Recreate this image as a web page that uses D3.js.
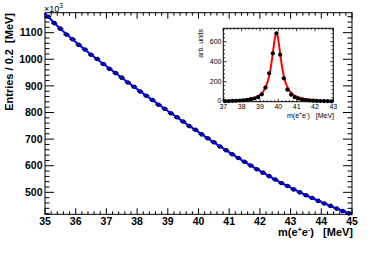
<!DOCTYPE html>
<html><head><meta charset="utf-8">
<script src="https://cdn.jsdelivr.net/npm/d3@7"></script>
<style>body{margin:0;background:#fff}svg{display:block}text{font-family:"Liberation Sans",Arial,sans-serif}</style>
</head><body><svg id="c" width="374" height="253"></svg>
<script>
// ---- main plot data (x in MeV, y in 10^3 entries per 0.2 MeV) ----
const binCenters = [35.1,35.3,35.5,35.7,35.9,36.1,36.3,36.5,36.7,36.9,37.1,37.3,37.5,37.7,37.9,38.1,38.3,38.5,38.7,38.9,39.1,39.3,39.5,39.7,39.9,40.1,40.3,40.5,40.7,40.9,41.1,41.3,41.5,41.7,41.9,42.1,42.3,42.5,42.7,42.9,43.1,43.3,43.5,43.7,43.9,44.1,44.3,44.5,44.7,44.9];
const entries = [1160,1136,1115,1093,1075,1054,1037,1017,1001,982,964,948,931,913,897,879,863,847,829,814,797,782,766,749,735,718,703,688,672,658,643,629,615,601,587,574,561,548,535,524,511,500,489,479,468,458,449,439,430,421];
const fitX = [35,35.5,36,36.5,37,37.5,38,38.5,39,39.5,40,40.5,41,41.5,42,42.5,43,43.5,44,44.5,45];
const fitY = [1172,1114.5,1064.5,1018,973.5,930.4,888,846.4,805.5,765.5,726.5,687.5,650.5,614.5,580.5,548,517.5,489,463.5,439.3,416.5];
const xTicks = [35,36,37,38,39,40,41,42,43,44,45];
const yTicks = [500,600,700,800,900,1000,1100];
// ---- inset data ----
const insetX = [37.1,37.3,37.5,37.7,37.9,38.1,38.3,38.5,38.7,38.9,39.1,39.3,39.5,39.7,39.9,40.1,40.3,40.5,40.7,40.9,41.1,41.3,41.5,41.7,41.9,42.1,42.3,42.5,42.7,42.9];
const insetY = [5,6,8,9,12,14,18,25,32,45,74,140,284,484,684,470,234,120,70,45,32,22,17,12,10,8,7,6,5,4];
const insetFitX = [37,37.5,38,38.5,38.8,39,39.2,39.3,39.4,39.5,39.6,39.7,39.8,39.85,39.9,39.95,40,40.1,40.2,40.3,40.4,40.5,40.6,40.8,41,41.5,42,42.5,43];
const insetFitY = [7,10,16,30,48,70,108,145,190,258,354,484,620,665,690,670,620,484,354,258,190,145,112,72,50,26,15,10,7];
const insetXTicks = [37,38,39,40,41,42,43];
const insetYTicks = [0,200,400,600];

const svg = d3.select("#c");
const M = {l:45, r:352, t:12.7, b:214.3};
const x = d3.scaleLinear().domain([35,45]).range([M.l,M.r]);
const y = d3.scaleLinear().domain([417.5,1175]).range([M.b,M.t]);

svg.append("rect").attr("width",374).attr("height",253).attr("fill","#fff");

function minorRange(a,b,s){const r=[];for(let i=0;a+i*s<=b+1e-9;i++)r.push(+(a+i*s).toFixed(4));return r;}
const xMinor = minorRange(35,45,0.2).filter(v=>!xTicks.includes(v));
const yMinor = minorRange(420,1160,20).filter(v=>!yTicks.includes(v));

const gAx = svg.append("g").attr("stroke","#000").attr("stroke-width",1);
xTicks.forEach(v=>{gAx.append("line").attr("x1",x(v)).attr("x2",x(v)).attr("y1",M.b).attr("y2",M.b-6);
  gAx.append("line").attr("x1",x(v)).attr("x2",x(v)).attr("y1",M.t).attr("y2",M.t+6);});
xMinor.forEach(v=>{gAx.append("line").attr("x1",x(v)).attr("x2",x(v)).attr("y1",M.b).attr("y2",M.b-3);
  gAx.append("line").attr("x1",x(v)).attr("x2",x(v)).attr("y1",M.t).attr("y2",M.t+3);});
yTicks.forEach(v=>{gAx.append("line").attr("x1",M.l).attr("x2",M.l+9).attr("y1",y(v)).attr("y2",y(v));
  gAx.append("line").attr("x1",M.r).attr("x2",M.r-9).attr("y1",y(v)).attr("y2",y(v));});
yMinor.forEach(v=>{gAx.append("line").attr("x1",M.l).attr("x2",M.l+4.5).attr("y1",y(v)).attr("y2",y(v));
  gAx.append("line").attr("x1",M.r).attr("x2",M.r-4.5).attr("y1",y(v)).attr("y2",y(v));});

const gD = svg.append("g");
binCenters.forEach((c,i)=>{
  gD.append("line").attr("x1",x(c-0.1)).attr("x2",x(c+0.1)).attr("y1",y(entries[i])).attr("y2",y(entries[i])).attr("stroke","#000").attr("stroke-width",1.4);
  gD.append("circle").attr("cx",x(c)).attr("cy",y(entries[i])).attr("r",2.3).attr("fill","#000");
});
const line = d3.line().x(d=>x(d[0])).y(d=>y(d[1])).curve(d3.curveMonotoneX);
svg.append("path").datum(fitX.map((v,i)=>[v,fitY[i]])).attr("d",line).attr("fill","none").attr("stroke","#0000ff").attr("stroke-width",2);

svg.append("rect").attr("x",M.l).attr("y",M.t).attr("width",M.r-M.l).attr("height",M.b-M.t).attr("fill","none").attr("stroke","#000").attr("stroke-width",1);

const tl = svg.append("g").attr("font-size","10.5px").attr("font-weight","bold").attr("fill","#000");
xTicks.forEach(v=>tl.append("text").attr("x",x(v)).attr("y",224.5).attr("text-anchor","middle").text(v));
yTicks.forEach(v=>tl.append("text").attr("x",42.5).attr("y",y(v)+3.7).attr("text-anchor","end").text(v));

const ex = svg.append("text").attr("x",44).attr("y",12).attr("font-size","9px");
ex.append("tspan").text("×10");
ex.append("tspan").attr("dy",-4).attr("font-size","6.5px").text("3");

const xt = svg.append("text").attr("x",353).attr("y",236).attr("text-anchor","end").attr("font-size","11px").attr("font-weight","bold");
xt.append("tspan").text("m(e");
xt.append("tspan").attr("dy",-4).attr("font-size","7px").text("+");
xt.append("tspan").attr("dy",4).text("e");
xt.append("tspan").attr("dy",-4).attr("font-size","7px").text("-");
xt.append("tspan").attr("dy",4).text(")\u00a0\u00a0\u00a0[MeV]");
svg.append("text").attr("transform","translate(13,13) rotate(-90)").attr("text-anchor","end").attr("font-size","11px").attr("font-weight","bold").text("Entries / 0.2\u00a0\u00a0[MeV]");

// ---- inset ----
const I = {l:223.3, r:333.3, t:28.3, b:101.7};
const ix = d3.scaleLinear().domain([37,43]).range([I.l,I.r]);
const iy = d3.scaleLinear().domain([0,734]).range([I.b,I.t]);
svg.append("rect").attr("x",I.l).attr("y",I.t).attr("width",I.r-I.l).attr("height",I.b-I.t).attr("fill","#fff");
const gi = svg.append("g").attr("stroke","#000").attr("stroke-width",0.8);
const ixMinor = minorRange(37,43,0.2).filter(v=>!insetXTicks.includes(v));
const iyMinor = minorRange(0,720,40).filter(v=>!insetYTicks.includes(v));
insetXTicks.forEach(v=>{gi.append("line").attr("x1",ix(v)).attr("x2",ix(v)).attr("y1",I.b).attr("y2",I.b-3);
  gi.append("line").attr("x1",ix(v)).attr("x2",ix(v)).attr("y1",I.t).attr("y2",I.t+3);});
ixMinor.forEach(v=>{gi.append("line").attr("x1",ix(v)).attr("x2",ix(v)).attr("y1",I.b).attr("y2",I.b-1.5);
  gi.append("line").attr("x1",ix(v)).attr("x2",ix(v)).attr("y1",I.t).attr("y2",I.t+1.5);});
insetYTicks.forEach(v=>{gi.append("line").attr("x1",I.l).attr("x2",I.l+3.3).attr("y1",iy(v)).attr("y2",iy(v));
  gi.append("line").attr("x1",I.r).attr("x2",I.r-3.3).attr("y1",iy(v)).attr("y2",iy(v));});
iyMinor.forEach(v=>{gi.append("line").attr("x1",I.l).attr("x2",I.l+1.7).attr("y1",iy(v)).attr("y2",iy(v));
  gi.append("line").attr("x1",I.r).attr("x2",I.r-1.7).attr("y1",iy(v)).attr("y2",iy(v));});
const iline = d3.line().x(d=>ix(d[0])).y(d=>iy(d[1])).curve(d3.curveMonotoneX);
svg.append("path").datum(insetFitX.map((v,i)=>[v,insetFitY[i]])).attr("d",iline).attr("fill","none").attr("stroke","#ff0000").attr("stroke-width",2);
insetX.forEach((c,i)=>{
  svg.append("line").attr("x1",ix(c-0.1)).attr("x2",ix(c+0.1)).attr("y1",iy(insetY[i])).attr("y2",iy(insetY[i])).attr("stroke","#000").attr("stroke-width",0.8);
  svg.append("circle").attr("cx",ix(c)).attr("cy",iy(insetY[i])).attr("r",2.1).attr("fill","#000");
});
svg.append("rect").attr("x",I.l).attr("y",I.t).attr("width",I.r-I.l).attr("height",I.b-I.t).attr("fill","none").attr("stroke","#000").attr("stroke-width",1);
const itl = svg.append("g").attr("font-size","7px").attr("fill","#000");
insetXTicks.forEach(v=>itl.append("text").attr("x",ix(v)).attr("y",109).attr("text-anchor","middle").text(v));
insetYTicks.forEach(v=>itl.append("text").attr("x",221.5).attr("y",iy(v)+(v===0?1.2:2.5)).attr("text-anchor","end").text(v));
const ixt = svg.append("text").attr("x",334).attr("y",117.5).attr("text-anchor","end").attr("font-size","7px");
ixt.append("tspan").text("m(e");
ixt.append("tspan").attr("dy",-2.5).attr("font-size","5px").text("+");
ixt.append("tspan").attr("dy",2.5).text("e");
ixt.append("tspan").attr("dy",-2.5).attr("font-size","5px").text("-");
ixt.append("tspan").attr("dy",2.5).text(")\u00a0\u00a0\u00a0[MeV]");
svg.append("text").attr("transform","translate(203,29) rotate(-90)").attr("text-anchor","end").attr("font-size","7px").text("arb. units");
</script></body></html>
